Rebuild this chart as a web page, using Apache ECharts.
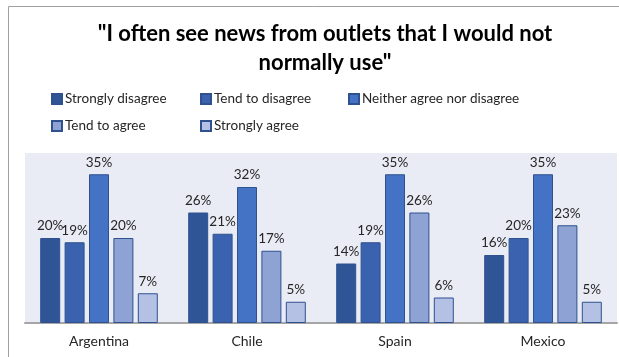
<!DOCTYPE html>
<html><head><meta charset="utf-8">
<script src="https://cdn.jsdelivr.net/npm/echarts@6/dist/echarts.min.js"></script>
<style>html,body{margin:0;padding:0;background:#fff}#c{width:619px;height:357px}</style>
</head><body><div id="c"></div>
<script>
const categories = ["Argentina", "Chile", "Spain", "Mexico"];
const seriesNames = ["Strongly disagree", "Tend to disagree", "Neither agree nor disagree", "Tend to agree", "Strongly agree"];
const stronglyDisagree = [20, 26, 14, 16];
const tendToDisagree = [19, 21, 19, 20];
const neither = [35, 32, 35, 35];
const tendToAgree = [20, 17, 26, 23];
const stronglyAgree = [7, 5, 6, 5];
const colors = ["#2F5597", "#3A62AE", "#4472C4", "#8FA2D4", "#B4C0E4"];
const values = [stronglyDisagree, tendToDisagree, neither, tendToAgree, stronglyAgree];

const font = "Lato, 'Open Sans', sans-serif";
const legendPos = [[51, 92], [200, 92], [348, 92], [51, 119], [200, 119]];
const chart = echarts.init(document.getElementById('c'));
chart.setOption({
  animation: false,
  textStyle: {fontFamily: font},
  title: {
    text: '"I often see news from outlets that I would not\nnormally use"',
    left: 320, top: 14, textAlign: 'center',
    textStyle: {fontSize: 22, fontWeight: 'bold', color: '#000', lineHeight: 29, fontFamily: font}
  },
  legend: seriesNames.map((n, i) => ({
    left: legendPos[i][0], top: legendPos[i][1], padding: 0,
    itemWidth: 10, itemHeight: 10, icon: 'rect',
    data: [n],
    textStyle: {fontSize: 13.5, color: '#262626', padding: [0, 0, 0, -2]}
  })),
  grid: {left: 25, right: 2, top: 153, bottom: 34, show: true, backgroundColor: '#E9EBF5', borderWidth: 0},
  xAxis: {
    type: 'category', data: categories,
    axisLine: {lineStyle: {color: '#A6A6A6', width: 2}},
    axisTick: {show: false},
    axisLabel: {fontSize: 14, color: '#262626', margin: 11}
  },
  yAxis: {type: 'value', min: 0, max: 40, show: false, splitLine: {show: false}},
  graphic: [
    {type: 'line', shape: {x1: 8.5, y1: 6.5, x2: 619, y2: 6.5}, style: {stroke: '#A0A0A0', lineWidth: 1}},
    {type: 'line', shape: {x1: 8.5, y1: 6.5, x2: 8.5, y2: 357}, style: {stroke: '#A0A0A0', lineWidth: 1}},
    {type: 'text', left: 10, top: -9, style: {text: 'Table 3: Incidental access to media', fontSize: 11, fill: '#000', fontFamily: font}}
  ],
  series: seriesNames.map((n, i) => ({
    name: n, type: 'bar', data: values[i],
    barWidth: 20, barGap: '22%', barCategoryGap: '20%',
    itemStyle: {color: colors[i], borderColor: '#2F528F', borderWidth: 1},
    label: {show: true, position: 'top', formatter: '{c}%', fontSize: 13.5, color: '#262626', distance: 5}
  }))
});
</script></body></html>
